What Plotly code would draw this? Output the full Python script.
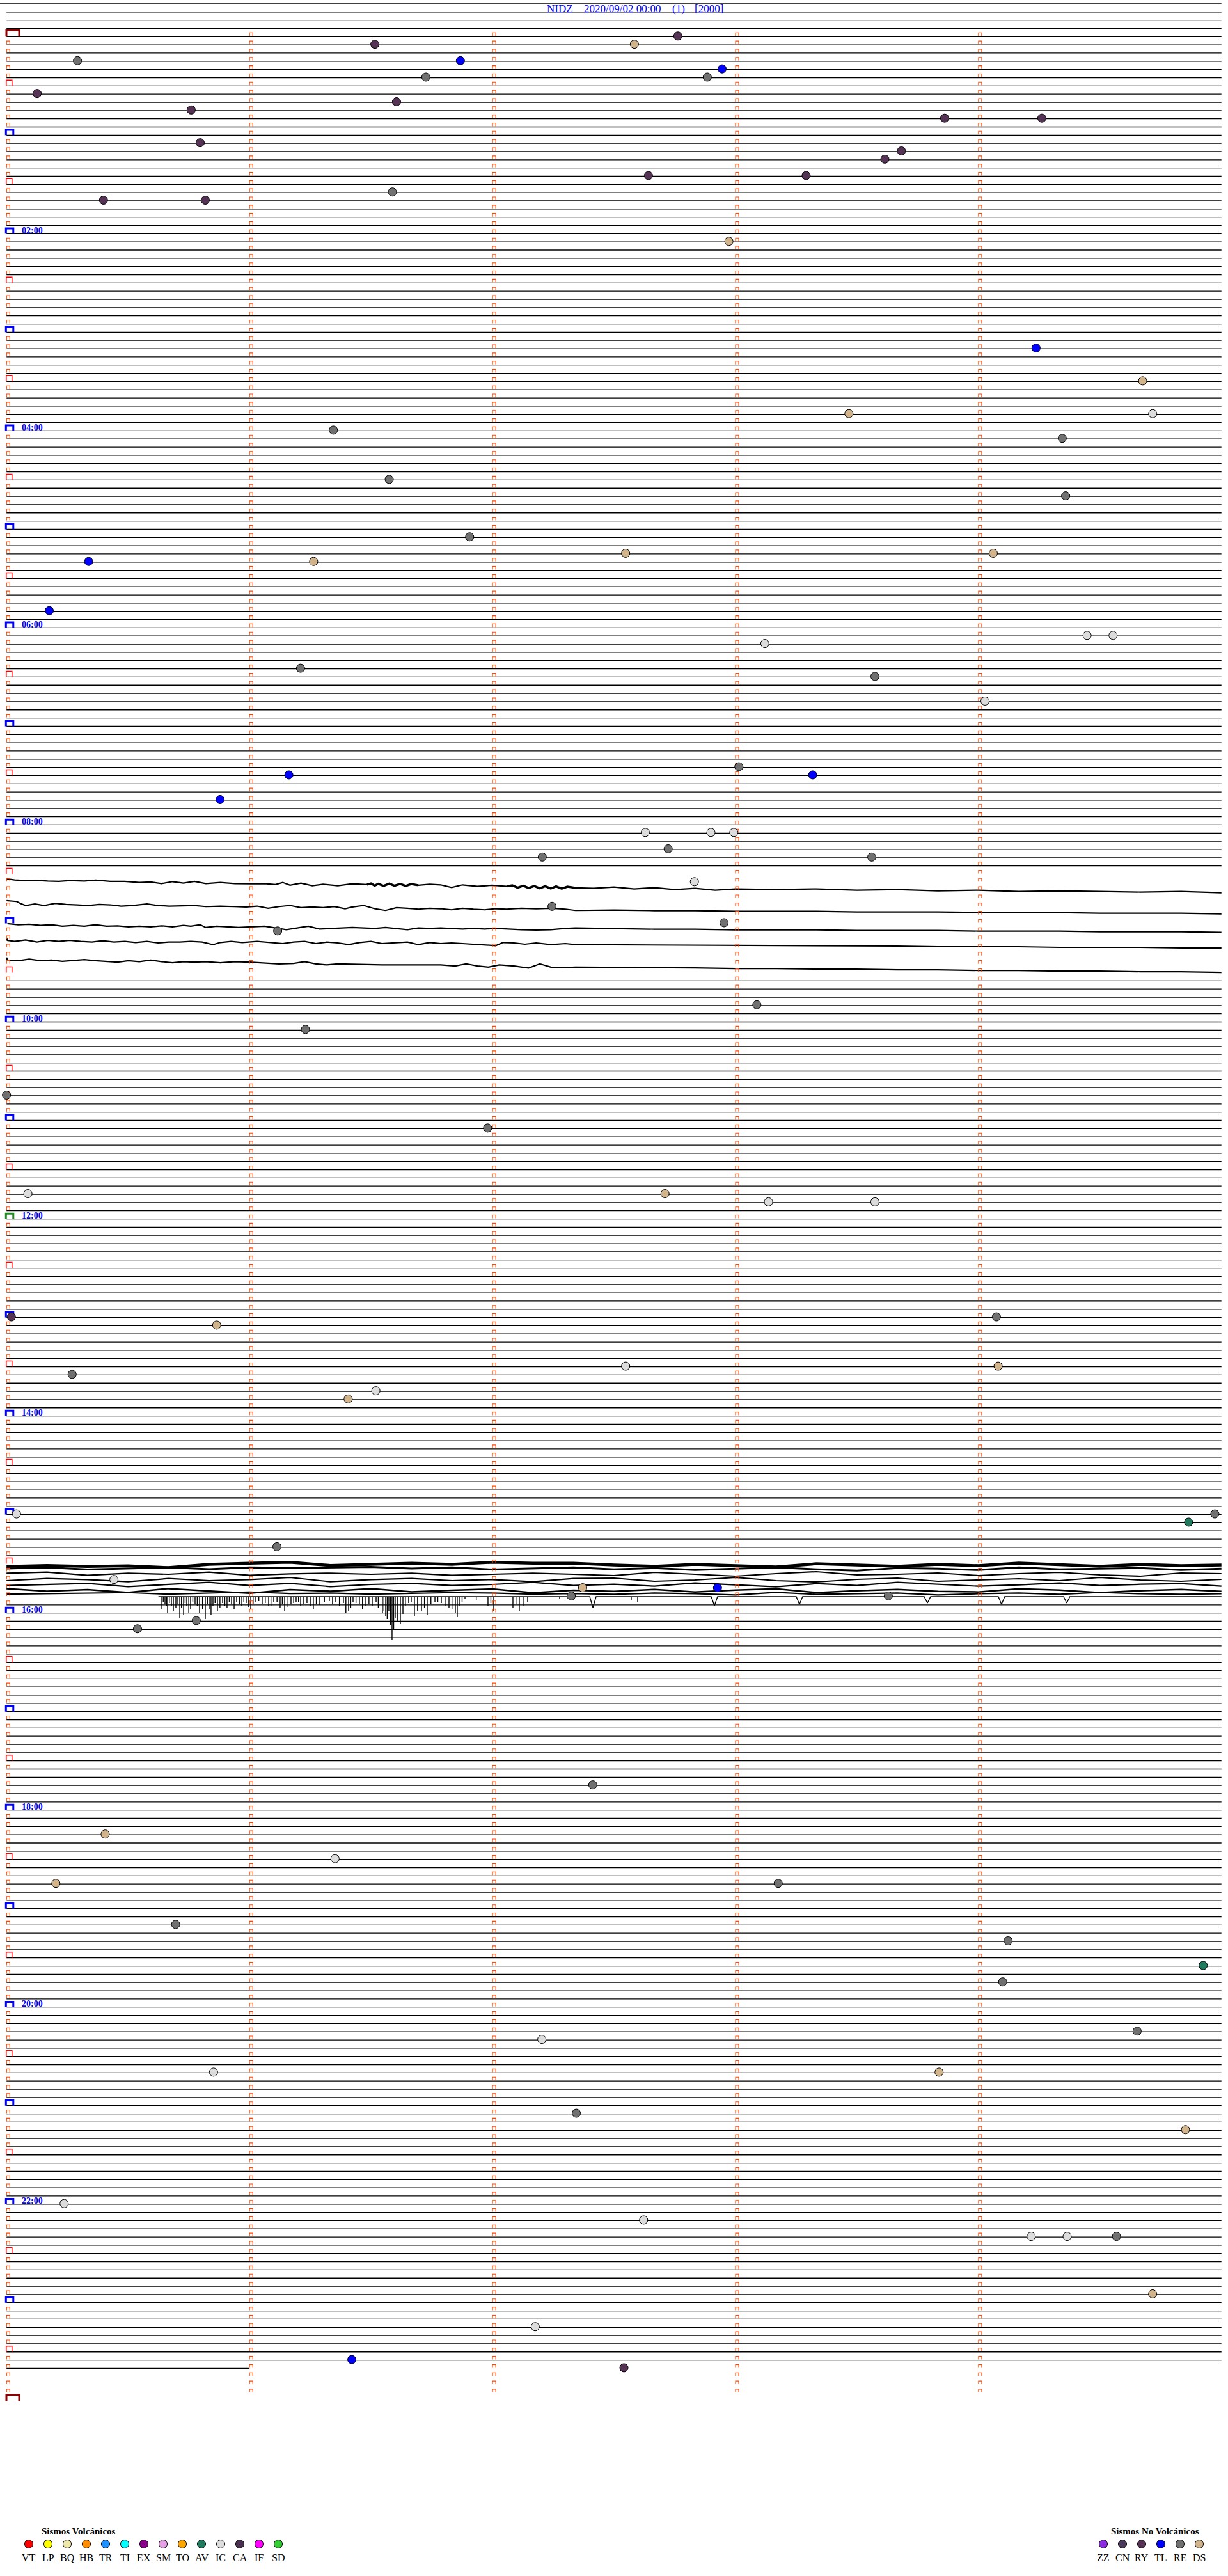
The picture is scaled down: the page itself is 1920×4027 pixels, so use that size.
import numpy as np
import plotly.graph_objects as go

# ============================ DATA ============================
STATION = "NIDZ"
DATE_LABEL = "2020/09/02 00:00"
RUN_LABEL = "(1)"
GAIN_LABEL = "[2000]"

LINE_SECONDS = 300          # one helicorder line = 5 minutes
N_LINES = 288               # 24 hours
N_PRE_LINES = 4             # plain trace lines drawn above 00:00
DATA_END_LINE = 284         # last line with signal
DATA_END_SEC = 60.0         # signal stops 60 s into that line

HOUR_LABELS = ["02:00", "04:00", "06:00", "08:00", "10:00", "12:00",
               "14:00", "16:00", "18:00", "20:00", "22:00"]

# events: minutes after 00:00 and type code
EVENT_MIN = [2.763, 6.516, 7.584, 15.292, 16.868, 22.945, 26.726, 27.884, 35.126, 41.605,
             45.760, 53.861, 54.261, 65.797, 73.683, 78.615, 87.642, 88.291, 96.588, 100.399,
             100.818, 127.973, 194.237, 214.676, 233.467, 234.717, 241.345, 249.345, 271.575, 284.359,
             306.906, 317.548, 319.061, 320.338, 321.264, 350.176, 369.447, 369.554, 373.121, 386.21,
             393.574, 409.027, 448.014, 451.162, 453.318, 465.879, 487.629, 487.899, 487.993, 497.723,
             502.205, 503.561, 517.831, 532.245, 542.953, 546.116, 593.088, 606.23, 645.0, 666.98,
             705.088, 707.71, 713.136, 713.574, 780.02, 785.865, 784.074, 815.27, 812.548, 814.081,
             826.52, 831.406, 900.041, 904.973, 909.865, 921.113, 940.442, 947.371, 947.926, 952.324,
             953.629, 965.781, 970.539, 1067.413, 1095.406, 1111.352, 1125.203, 1128.176, 1150.696, 1164.122,
             1179.925, 1189.1, 1219.653, 1222.203, 1240.852, 1243.838, 1267.345, 1279.852, 1320.237, 1332.622,
             1344.217, 1344.365, 1344.568, 1379.717, 1397.176, 1416.421, 1422.541]
EVENT_TYPE = ["RY", "RY", "DS", "RE", "TL", "TL", "RE", "RE", "RY", "RY",
              "RY", "RY", "RY", "RY", "RY", "RY", "RY", "RY", "RE", "RY",
              "RY", "DS", "TL", "DS", "DS", "IC", "RE", "RE", "RE", "RE",
              "RE", "DS", "DS", "TL", "DS", "TL", "IC", "IC", "IC", "RE",
              "RE", "IC", "RE", "TL", "TL", "TL", "IC", "IC", "IC", "RE",
              "RE", "RE", "IC", "RE", "RE", "RE", "RE", "RE", "RE", "RE",
              "IC", "DS", "IC", "IC", "RY", "DS", "RE", "RE", "IC", "DS",
              "IC", "DS", "IC", "RE", "AV", "RE", "IC", "DS", "TL", "RE",
              "RE", "RE", "RE", "RE", "DS", "IC", "DS", "RE", "RE", "RE",
              "AV", "RE", "RE", "IC", "IC", "DS", "RE", "DS", "IC", "IC",
              "IC", "IC", "RE", "DS", "IC", "TL", "RY"]

VOLC_CODES = ["VT", "LP", "BQ", "HB", "TR", "TI", "EX", "SM", "TO", "AV", "IC", "CA", "IF", "SD"]
VOLC_COLORS = ["#FF0000", "#FFFF00", "#EEE8AA", "#FF8C00", "#1E90FF", "#00FFFF", "#8B008B",
               "#E6A0E6", "#FFA500", "#1F7A5E", "#DCDCDC", "#4A3050", "#FF00FF", "#32CD32"]
NONVOLC_CODES = ["ZZ", "CN", "RY", "TL", "RE", "DS"]
NONVOLC_COLORS = ["#8A2BE2", "#4A3A5A", "#553355", "#0000FF", "#707070", "#D2B48C"]

# ---- 08:30-09:35 wavy traces: sample time (s) and deflection (px, down +) ----
WAVE_A_BASE = [103.1, 105.9, 108.4, 110.3, 112.8]
WAVE_A1_T = [0.0, 2.0, 4.7, 7.5, 10.2, 12.9, 15.6, 19.2, 22.0, 25.6, 29.2, 32.8, 35.6, 38.3, 41.0,
             43.7, 46.4, 49.2, 52.8, 56.4, 60.4, 63.7, 66.4, 68.2, 70.0, 72.7, 75.5, 78.2, 81.8, 85.4,
             89.0, 90.0, 90.9, 91.8, 93.1, 94.5, 95.8, 97.2, 98.6, 99.9, 101.7, 104.5, 107.2, 109.9,
             112.6, 116.3, 119.9, 123.5, 124.9, 126.2, 127.6, 128.9, 130.3, 131.7, 133.0, 134.4,
             135.7, 137.1, 138.5, 140.5, 145, 150, 155, 160, 165, 170, 175, 180, 190, 200, 210, 220,
             230, 240, 250, 260, 270, 280, 290, 300]
WAVE_A1_D = [-6.7, -5, -4, -4.3, -3.3, -2.7, -4, -3.3, -4.7, -2.7, -2.7, -1, -1.7, 0.7, -2.3,
             0, -2.7, 0.7, -1, 0.7, 1, 0.7, 2.3, -1, 3.3, 0, 4, 1.7, 4, 1,
             2.3, 0.5, 4.0, 1.0, 4.3, 0.8, 4.0, 1.2, 4.2, 1.5, 3.3, 1.7, 2.7, 6.7,
             2.7, 5, 3.3, 5, 3.5, 7.0, 4.0, 7.5, 4.5, 8.0, 4.8, 8.3,
             5.0, 8.5, 5.5, 7.3, 8, 6, 9, 7, 10, 8, 11, 9, 10, 9, 11, 10,
             12, 11, 13, 12, 13, 14, 13, 15]
WAVE_A1_NOISE = [(88.0, 102.5), (123.0, 141.0)]     # seconds with dense high-frequency noise
WAVE_A2_T = [0.0, 2.5, 3.4, 4.7, 7.0, 9.3, 12.0, 14.7, 17.4, 20.1, 22.9, 25.6, 28.3, 31.0, 34.7,
             37.4, 40.1, 43.7, 46.4, 49.2, 52.8, 56.4, 59.1, 61.9, 64.6, 67.3, 70.0, 72.7, 75.5, 78.2,
             80.9, 83.6, 85.4, 88.2, 90.9, 93.6, 96.3, 99.0, 101.7, 104.5, 107.2, 109.9, 112.6, 115.3,
             118.1, 120.8, 123.5, 127.1, 130.8, 134.4, 138.0, 140.5, 150, 160, 170, 180, 190, 200,
             210, 220, 230, 240, 250, 260, 270, 280, 290, 300]
WAVE_A2_D = [-8.7, -7.3, -4.3, -1, -3.3, -1, -4.3, -2.7, -2, -1, -2.7, -2, 0, -1, -3.3,
             -1, 0, -1, -1, 0.7, 0, 0.7, 1.3, 0, 3.3, 0.7, -1, 2.3, 1.3, 2.3,
             0.7, 4, 1.3, -1, 4, 6.7, 2.3, 3.3, 4.7, 3.3, 4, 5.7, 3.3, 4.7,
             5.7, 4, 4.7, 3.3, 4, 3.3, 4.7, 6.7, 6, 7, 7, 8, 8, 8,
             9, 9, 9, 10, 10, 10, 11, 11, 11, 12]
WAVE_A3_T = [0.2, 2.9, 5.6, 8.4, 11.1, 13.8, 16.5, 19.2, 22.0, 24.7, 27.4, 30.1, 32.8, 35.6, 38.3,
             41.0, 43.7, 45.5, 47.8, 49.2, 51.9, 54.6, 57.3, 60.4, 63.7, 66.4, 69.1, 71.8, 74.5, 77.3,
             80.0, 82.7, 85.4, 88.2, 90.9, 93.6, 96.3, 99.0, 101.7, 104.5, 107.2, 109.9, 112.6, 115.3,
             118.1, 120.8, 123.5, 127.1, 130.8, 134.4, 138.0, 140.5, 150, 160, 170, 180, 190, 200,
             210, 220, 230, 240, 250, 260, 270, 280, 290, 300]
WAVE_A3_D = [-4.7, -3, -3.7, -2, -3, -0.7, -2, -0.7, -3, -0.7, -1.3, 0.3, -0.7, 0.3, -1.3,
             0.3, -2, -0.7, -3, 1.3, -0.7, 0.3, 1.3, 0.3, -0.7, 2, 4.7, 2, -0.7, 3.7,
             2.7, 2, 1.3, 2, 2.7, 1.3, 2.7, 4.7, 2, 2.7, 2, 2.7, 3.7, 2.7,
             3.7, 2.7, 3.7, 4.7, 5.3, 4.7, 2.7, 2, 3, 4, 4, 5, 5, 5,
             6, 6, 6, 7, 7, 7, 8, 8, 8, 9]
WAVE_A4_T = [0.0, 0.2, 2.0, 4.7, 7.5, 10.2, 12.9, 15.6, 18.3, 21.1, 23.8, 26.5, 29.2, 31.9, 34.7,
             37.4, 40.1, 42.8, 45.5, 48.3, 51.0, 52.8, 55.5, 58.2, 61.9, 65.5, 68.2, 70.9, 73.6, 76.4,
             79.1, 81.8, 84.5, 87.2, 90.0, 92.7, 96.3, 99.0, 101.7, 104.5, 107.2, 109.9, 112.6, 115.3,
             118.1, 120.8, 122.6, 125.3, 128.0, 130.8, 134.4, 138.0, 140.5, 150, 160, 170, 180, 190,
             200, 210, 220, 230, 240, 250, 260, 270, 280, 290, 300]
WAVE_A4_D = [-7, -3, -1.3, -3.7, -0.3, -3, -1.3, -3, -1.3, -0.3, -2.3, -0.3, -1.3, 0.3, -1.3,
             1, -0.3, -0.3, -1.3, -0.3, 3.7, 0.3, -1.3, 0.3, -1.3, 0.3, 2, -0.3, -1.3, 2,
             -0.3, 1, 3.7, 0.3, -1.3, 2, 1, -0.3, 3.7, 0.3, 2, 1, 2, 3,
             4.3, 5.3, 0.3, 1, 3, 1, 3.7, 2, 3.7, 4, 4, 5, 5, 5,
             6, 6, 6, 7, 7, 7, 8, 8, 8, 9, 9]
WAVE_A5_T = [0.0, 0.2, 2.9, 5.6, 8.4, 11.1, 13.8, 16.5, 19.2, 22.0, 24.7, 27.4, 30.1, 32.8, 35.6,
             38.3, 41.0, 43.7, 46.4, 49.2, 52.8, 56.4, 60.0, 63.7, 67.3, 70.9, 73.6, 76.4, 79.1, 81.8,
             85.4, 89.0, 92.7, 96.3, 99.9, 103.6, 107.2, 110.8, 113.5, 116.3, 119.0, 121.7, 125.3,
             128.9, 131.7, 134.4, 137.1, 140.5, 150, 160, 170, 180, 190, 200, 210, 220, 230, 240,
             250, 260, 270, 280, 290, 300]
WAVE_A5_D = [-8.3, -4.3, -3.3, -5.7, -3.3, -4.3, -2.3, -3.3, -5, -3.3, -2.3, -1, -3.3, -1.7, -4.3,
             -1.7, 0, -1.7, -1, -1.7, 0, -1.7, -1, 0, 1.7, 1, -1.7, 1.7, 3.3, 1.7,
             2.3, 2.3, 3.3, 3.3, 3.3, 3.3, 3.3, 5, 1.7, 5, 6.7, 3.3, 5,
             8.3, 1.7, 6.7, 7.7, 6.7, 7, 8, 8, 9, 9, 10, 10, 11, 11, 12,
             12, 13, 13, 14, 14, 15]

# ---- 15:30-15:50 noisy traces (deflection px, one value every 10 s) ----
WAVE_B_BASE = [186.15, 186.6, 187.2, 187.9, 188.5, 189.2, 189.65]
WAVE_B1 = [2.3, 0.7, 2.3, 1.3, 4, -1, -2.7, -4.3, 0.7, -1, -2.7, -1, -4.3, -2.7, -2.7,
           0, 2, -1, 1, 3, -2, 0, 2, -1, 1, -3, 0, 2, -1, 1, 0]
WAVE_B2 = [-0.3, -2, 1.3, -0.3, -2, 0.7, -2, -1.3, -2, -2.7, -0.3, -2, 1.3, -0.3, -2,
           1, -1, 2, 0, -2, 1, 3, -1, 0, 2, -2, 1, 0, -1, 2, 0]
WAVE_B3 = [-0.7, -2.3, 2.7, -0.7, 1, -2.3, 2.7, 0.3, -0.7, 1, -0.7, 2.7, 1, -0.7, 1,
           3, -2, 1, 4, 0, -3, 2, 1, -1, 3, 0, -2, 2, 4, -1, 0]
WAVE_B4 = [2, -1.3, 0.3, 3.7, -1.3, 2, 0.3, -3, 3.7, 0.3, -1.3, 2, 0.3, 3.7, -1.3,
           -2, 3, 1, -3, 2, 4, 0, -2, 3, 1, -1, 2, -3, 1, 3, 0]
WAVE_B5 = [1.9, 0.3, -1.4, 3.6, 0.3, -3.1, 1.9, -1.4, 3.6, 0.3, -1.4, 1.9, 0.3, -3.1, 1.9,
           0, 3, -2, 1, 4, -1, 2, -3, 0, 3, 1, -2, 2, 0, -1, 3]
WAVE_B6 = [-2.3, 1.7, -0.6, 3.7, -2.3, 1.1, 5.1, -0.6, 1.7, -2.3, 2.7, 0.4, -1.6, 4.4, 0.4,
           2, -1, 3, 0, -2, 4, 1, -1, 2, 3, -2, 0, 4, 1, -1, 2]
WAVE_B7 = [0.7, -0.3, -1, -1.7, 0.7, -1, -2.7, -0.3, -1, 0.7, -0.3, -1.7, -1, 0.7, -0.3,
           1, -1, 0, 2, -2, 1, 0, -1, 2, 0, -1, 1, -2, 0, 1, 0]

# ---- spikes hanging from the 15:50 line (time s, depth px) ----
SPIKE_LINE = 190
SPIKE_START_SEC = 37.5
SPIKE_T = [38.35, 38.7, 39.14, 39.5, 39.77, 40.2, 40.72, 41.2, 41.82, 42.3, 42.77, 43.2, 43.72,
           44.1, 44.50, 45.0, 45.45, 46.0, 46.56, 47.1, 47.66, 48.4, 49.09, 49.6, 50.03, 50.5,
           50.98, 51.5, 52.09, 52.7, 53.35, 53.9, 54.45, 55.0, 55.56, 56.2, 56.82, 57.5, 58.09,
           58.6, 59.19, 59.8, 60.30, 60.9, 61.56, 62.3, 63.14, 63.9, 64.72, 65.3, 65.98, 66.8,
           67.56, 68.1, 68.67, 69.5, 70.25, 70.9, 71.51, 72.1, 72.62, 73.4, 74.19, 75.0, 75.77,
           76.5, 77.35, 78.5, 79.72, 80.5, 81.30, 82.2, 83.20, 83.8, 84.46, 85.0, 85.57, 86.3,
           87.15, 87.9, 88.73, 89.5, 90.31, 91.26, 91.8, 92.83, 93.2, 93.62, 94.0, 94.41, 94.8,
           95.20, 95.6, 95.99, 96.6, 97.26, 97.89, 98.5, 99.3, 99.94, 100.73, 101.5, 102.47,
           103.2, 103.89, 104.8, 105.79, 106.5, 107.37, 108.3, 109.26, 110.0, 110.84, 111.31,
           111.79, 112.5, 113.21, 116.0, 118.89, 119.6, 120.31, 125.05, 125.8, 126.63, 127.57,
           128.68, 136.58, 154.27, 155.85]
SPIKE_D = [20, 8, 12, 15, 25, 10, 15, 22, 18, 12, 33, 18, 28,
           10, 15, 25, 20, 8, 12, 15, 25, 20, 35, 12, 20, 28,
           15, 10, 22, 18, 10, 14, 18, 8, 12, 20, 8, 12, 15,
           9, 10, 16, 20, 11, 8, 7, 12, 10, 15, 14, 8, 9,
           18, 12, 22, 16, 12, 10, 8, 8, 15, 12, 10, 14, 20,
           11, 13, 9, 7, 12, 8, 15, 10, 25, 22, 18, 8, 10,
           12, 20, 15, 12, 15, 8, 18, 25, 22, 30, 35, 23, 45,
           67, 50, 33, 38, 43, 27, 15, 10, 8, 30, 22, 23,
           18, 28, 12, 8, 8, 10, 14, 18, 20, 25, 32,
           15, 8, 3, 5, 15, 10, 22, 17, 12, 22, 15,
           8, 3, 5, 8]
VDIP_T = [144.8, 174.8, 195.8, 227.4, 245.7, 261.8]
VDIP_D = [17, 14, 12, 10, 12, 10]

# ============================ GEOMETRY / STYLE ============================
W, H = 1920, 4027
PX_X = 379.9 / 60.0      # px per second
PX_Y = 12.835            # px per line
X0_PX, Y0_PX = 10.2, 57.3
X_RANGE = [-X0_PX / PX_X, (W - X0_PX) / PX_X]
Y_RANGE = [(H - Y0_PX) / PX_Y, -Y0_PX / PX_Y]


def px_x(px):
    return px / PX_X


def px_y(px):
    return px / PX_Y


def y_of_px(py):
    return (py - Y0_PX) / PX_Y


fig = go.Figure()

# ---------------- plain trace lines ----------------
wave_lines = set(range(102, 115)) | set(range(186, 190))
fx, fy = [], []
for i in range(-N_PRE_LINES, DATA_END_LINE + 1):
    if i in wave_lines or i == SPIKE_LINE:
        continue
    t0 = -X0_PX / PX_X if i == -N_PRE_LINES else 0.0
    t1 = DATA_END_SEC if i == DATA_END_LINE else LINE_SECONDS
    fx += [t0, t1, None]
    fy += [i, i, None]
fig.add_trace(go.Scatter(x=fx, y=fy, mode="lines", line=dict(color="black", width=1.3),
                         hoverinfo="skip"))


# ---------------- wavy traces ----------------
def add_wave(base, t, vals, width):
    y = base + np.asarray(vals, dtype=float) / PX_Y
    fig.add_trace(go.Scatter(x=t, y=y, mode="lines", line=dict(color="black", width=width),
                             hoverinfo="skip"))


A_T = [WAVE_A1_T, WAVE_A2_T, WAVE_A3_T, WAVE_A4_T, WAVE_A5_T]
A_D = [WAVE_A1_D, WAVE_A2_D, WAVE_A3_D, WAVE_A4_D, WAVE_A5_D]
for b, t, v in zip(WAVE_A_BASE, A_T, A_D):
    add_wave(b, t, v, 2.2)
# dense-noise stretches of the first trace: same samples drawn thicker
for lo, hi in WAVE_A1_NOISE:
    sel = [(t, d) for t, d in zip(WAVE_A1_T, WAVE_A1_D) if lo <= t <= hi]
    add_wave(WAVE_A_BASE[0], [s[0] for s in sel], [s[1] for s in sel], 3.5)

B_VALS = [WAVE_B1, WAVE_B2, WAVE_B3, WAVE_B4, WAVE_B5, WAVE_B6, WAVE_B7]
B_WIDTH = [4.5, 3.0, 2.2, 2.2, 2.2, 2.5, 2.2]
for b, v, w in zip(WAVE_B_BASE, B_VALS, B_WIDTH):
    t = np.arange(len(v)) * (LINE_SECONDS / (len(v) - 1))
    add_wave(b, t, v, w)

# ---------------- spike line ----------------
items = [(t, d, "s") for t, d in zip(SPIKE_T, SPIKE_D)] + [(t, d, "v") for t, d in zip(VDIP_T, VDIP_D)]
items.sort()
sx, sy = [SPIKE_START_SEC], [SPIKE_LINE]
for t, d, k in items:
    if k == "s":
        sx += [t, t, t]
        sy += [SPIKE_LINE, SPIKE_LINE + px_y(d), SPIKE_LINE]
    else:
        sx += [t - px_x(5), t, t + px_x(5)]
        sy += [SPIKE_LINE, SPIKE_LINE + px_y(d), SPIKE_LINE]
sx.append(LINE_SECONDS)
sy.append(SPIKE_LINE)
fig.add_trace(go.Scatter(x=sx, y=sy, mode="lines", line=dict(color="black", width=1.4),
                         hoverinfo="skip"))


# ---------------- minute / hour markers ----------------
def bracket(lines, left_px, w_px, h_px, bottom_px=0.0):
    xs, ys = [], []
    for i, minute in lines:
        xl = minute * 60 + px_x(left_px)
        xr = xl + px_x(w_px)
        yb = i - px_y(bottom_px)
        yt = i - px_y(h_px)
        xs += [xl, xl, xr, xr, None]
        ys += [yb, yt, yt, yb, None]
    return xs, ys


small, half, hour, noon, day = [], [], [], [], []
for i in range(N_LINES):
    for m in range(5):
        if m == 0:
            if i == 0:
                day.append((i, 0))
                continue
            if i % 12 == 0:
                (noon if i == 144 else hour).append((i, 0))
                continue
            if i % 6 == 0:
                half.append((i, 0))
                continue
        small.append((i, m))
day.append((N_LINES, 0))

x_, y_ = bracket(small, 0.1, 5.0, 6.0, 1.0)
fig.add_trace(go.Scatter(x=x_, y=y_, mode="lines", line=dict(color="#FF4500", width=1.1), hoverinfo="skip"))
x_, y_ = bracket(half, -0.4, 9.0, 9.0, 0.0)
fig.add_trace(go.Scatter(x=x_, y=y_, mode="lines", line=dict(color="#FF0000", width=1.5), hoverinfo="skip"))
x_, y_ = bracket(hour, -0.9, 11.5, 8.3, 0.0)
fig.add_trace(go.Scatter(x=x_, y=y_, mode="lines", line=dict(color="#0000FF", width=3), hoverinfo="skip"))
x_, y_ = bracket(noon, -0.9, 11.5, 8.3, 0.0)
fig.add_trace(go.Scatter(x=x_, y=y_, mode="lines", line=dict(color="#1E8C1E", width=3), hoverinfo="skip"))
x_, y_ = bracket(day, -0.2, 20.0, 10.0, 0.0)
fig.add_trace(go.Scatter(x=x_, y=y_, mode="lines", line=dict(color="#8B0000", width=3), hoverinfo="skip"))

# ---------------- events ----------------
color_of = dict(zip(VOLC_CODES + NONVOLC_CODES, VOLC_COLORS + NONVOLC_COLORS))
ev_line = [int(np.floor(m / 5.0 + 1e-9)) for m in EVENT_MIN]
ev_t = [(m - 5 * l) * 60.0 for m, l in zip(EVENT_MIN, ev_line)]
fig.add_trace(go.Scatter(
    x=ev_t, y=[l - px_y(1.0) for l in ev_line], mode="markers",
    marker=dict(size=13, color=[color_of[c] for c in EVENT_TYPE],
                line=dict(color="black", width=1)),
    hoverinfo="skip"))

# ---------------- legend (second x axis: one slot = 30 px) ----------------
leg_y_dot = y_of_px(3977)
leg_y_lab = y_of_px(3998)
leg_y_tit = y_of_px(3957)
v_slots = list(range(len(VOLC_CODES)))
n_slots = [56 + k for k in range(len(NONVOLC_CODES))]
fig.add_trace(go.Scatter(
    x=v_slots + n_slots, y=[leg_y_dot] * (len(v_slots) + len(n_slots)), xaxis="x2", yaxis="y",
    mode="markers", marker=dict(size=13, color=VOLC_COLORS + NONVOLC_COLORS,
                                line=dict(color="black", width=1)),
    hoverinfo="skip"))

annotations = []
serif = "Liberation Serif, Times New Roman, serif"
for s, c in zip(v_slots + n_slots, VOLC_CODES + NONVOLC_CODES):
    annotations.append(dict(x=s, y=leg_y_lab, xref="x2", yref="y", text=c, showarrow=False,
                            xanchor="center", yanchor="middle",
                            font=dict(family=serif, size=16, color="black")))
annotations.append(dict(x=0.6, y=leg_y_tit, xref="x2", yref="y", text="<b>Sismos Volcánicos</b>",
                        showarrow=False, xanchor="left", yanchor="middle",
                        font=dict(family=serif, size=15, color="black")))
annotations.append(dict(x=58.7, y=leg_y_tit, xref="x2", yref="y", text="<b>Sismos No Volcánicos</b>",
                        showarrow=False, xanchor="center", yanchor="middle",
                        font=dict(family=serif, size=15, color="black")))

# ---------------- title ----------------
title_y = y_of_px(13)
for txt, left in [(STATION, 853), (DATE_LABEL, 911), (RUN_LABEL, 1049), (GAIN_LABEL, 1084)]:
    annotations.append(dict(x=(left - X0_PX) / PX_X, y=title_y, xref="x", yref="y", text=txt,
                            showarrow=False, xanchor="left", yanchor="middle",
                            font=dict(family=serif, size=17, color="#0000FF")))

# ---------------- hour labels ----------------
for k, lab in enumerate(HOUR_LABELS):
    line = 24 * (k + 1)
    annotations.append(dict(x=(32 - X0_PX) / PX_X, y=line - px_y(5.0), xref="x", yref="y",
                            text="<b>%s</b>" % lab, showarrow=False, xanchor="left",
                            yanchor="middle", font=dict(family=serif, size=14, color="#0000FF")))

fig.update_layout(
    width=W, height=H, margin=dict(l=0, r=0, t=0, b=0, pad=0),
    paper_bgcolor="white", plot_bgcolor="white", showlegend=False,
    xaxis=dict(range=X_RANGE, visible=False, fixedrange=True),
    xaxis2=dict(range=[-1.5, 62.5], visible=False, overlaying="x", anchor="y", fixedrange=True),
    yaxis=dict(range=Y_RANGE, visible=False, fixedrange=True),
    annotations=annotations,
)

fig.write_html("out.html", config={"displayModeBar": False, "staticPlot": True},
               post_script="document.body.style.margin='0px';document.body.style.overflow='hidden';")
